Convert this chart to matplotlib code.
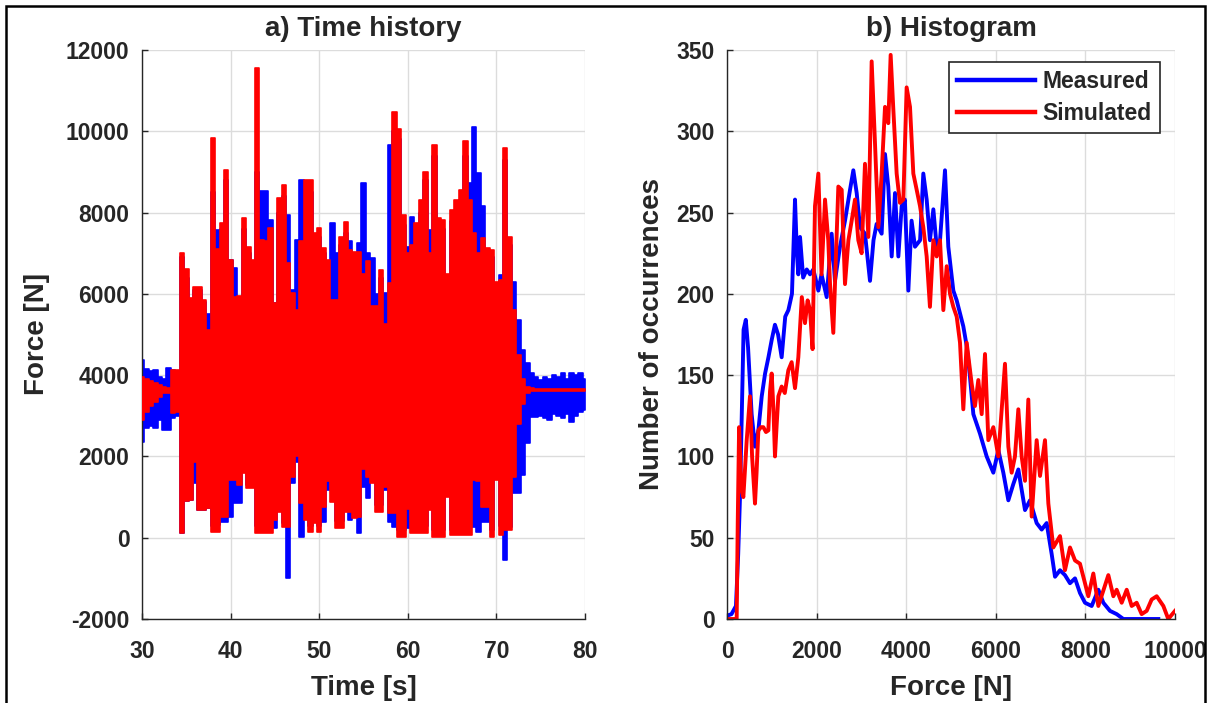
import matplotlib
matplotlib.use("Agg")
import matplotlib.pyplot as plt
import numpy as np
from matplotlib.patches import Rectangle

plt.rcParams['font.family'] = ['Liberation Sans', 'DejaVu Sans']
plt.rcParams['font.weight'] = 'bold'
plt.rcParams['axes.labelweight'] = 'bold'
plt.rcParams['axes.titleweight'] = 'bold'
plt.rcParams['axes.unicode_minus'] = False

# Force time history, envelope of the signal every 0.5 s from 30 s to 80 s
t_start, t_step = 30.0, 0.5

meas_hi = [4370, 4150, 4100, 4120, 3950, 3900, 4170, 4130, 4100, 6900,
           6400, 5800, 6100, 6100, 5800, 5500, 8500, 7570, 7600, 8800,
           6830, 6630, 5700, 7600, 7000, 6700, 9000, 8520, 8520, 7820,
           5770, 8000, 8400, 7940, 6100, 7330, 8800, 8500, 8500, 7300,
           7400, 7000, 6500, 7740, 7000, 7200, 7500, 7290, 6900, 7240,
           8720, 7000, 6870, 6000, 6400, 6010, 9660, 10000, 9800, 7700,
           7160, 7900, 7500, 8000, 8800, 7570, 9400, 7600, 7600, 6400,
           7800, 8000, 8300, 9400, 8720, 10110, 8970, 8150, 7000, 6900,
           6200, 6460, 9300, 7200, 6300, 5360, 4620, 4290, 4050, 3950,
           3880, 3960, 3900, 4000, 3950, 4050, 3900, 4050, 4000, 4050,
           3900]
meas_lo = [2360, 2700, 2750, 2690, 2900, 2650, 2650, 2940, 3000, 108,
           900, 930, 1340, 682, 680, 720, 300, 313, 395, 395,
           520, 846, 846, 1700, 1300, 1300, 300, 300, 300, 230,
           230, 700, 350, -1000, 1340, 1870, 26, 540, 300, 450,
           300, 395, 1174, 1340, 400, 400, 700, 436, 600, 108,
           1260, 969, 1500, 800, 800, 1174, 395, 272, 200, 200,
           231, 231, 300, 300, 300, 800, 200, 200, 200, 1100,
           200, 200, 200, 200, 300, 272, 149, 395, 395, 200,
           1500, 300, -550, 272, 1092, 1100, 1540, 2320, 2980, 2980,
           3000, 2950, 2900, 3050, 3000, 2950, 3050, 2850, 3000, 3100,
           3140]
sim_hi = [3960, 3900, 3850, 3800, 3750, 3700, 3680, 4130, 4130, 7000,
          6600, 5890, 6180, 6180, 5850, 5100, 9830, 7100, 7740, 9050,
          6830, 5930, 5950, 7860, 7160, 6830, 11550, 7330, 7300, 7610,
          5770, 8350, 8680, 6750, 6010, 5600, 7300, 8800, 8800, 7490,
          7610, 7120, 6830, 5850, 5850, 7410, 7780, 7080, 7040, 7040,
          6500, 6800, 5690, 5690, 6590, 5270, 6260, 10480, 10050, 7940,
          7000, 7200, 7740, 8310, 9010, 7000, 9660, 7860, 7820, 6500,
          8060, 8310, 8560, 9750, 8310, 7500, 7000, 7370, 7120, 7080,
          6300, 6340, 9580, 7410, 5600, 4500, 3900, 3700, 3680, 3665,
          3660, 3660, 3660, 3660, 3660, 3660, 3660, 3660, 3660, 3660,
          3660]
sim_lo = [2900, 3100, 3250, 3350, 3450, 3550, 3560, 3060, 3100, 108,
          900, 928, 1860, 682, 680, 720, 150, 150, 520, 520,
          1420, 1420, 1300, 1580, 1215, 1215, 108, 108, 108, 108,
          436, 641, 272, 270, 1500, 2000, 846, 436, 150, 354,
          150, 764, 1400, 880, 231, 231, 641, 640, 477, 500,
          1700, 1500, 1340, 641, 641, 1256, 600, 600, 26, 26,
          700, 108, 108, 108, 108, 682, 26, 26, 26, 1010,
          67, 67, 67, 67, 67, 1420, 1400, 764, 764, 26,
          1420, 67, 190, 190, 1500, 2800, 3300, 3550, 3600, 3615,
          3620, 3620, 3620, 3620, 3620, 3620, 3620, 3620, 3620, 3620,
          3620]

# Histogram of force values
meas_force = [0, 100, 200, 250, 290, 330, 370, 420, 470, 550,
              625, 700, 775, 850, 925, 1000, 1070, 1140, 1220, 1300,
              1370, 1450, 1518, 1560, 1592, 1630, 1700, 1780, 1853, 1927,
              2039, 2110, 2225, 2336, 2410, 2522, 2634, 2746, 2820, 2895,
              2969, 3080, 3192, 3270, 3340, 3452, 3527, 3600, 3676, 3750,
              3825, 3899, 3970, 4048, 4120, 4196, 4310, 4382, 4457, 4530,
              4606, 4680, 4755, 4866, 4940, 5052, 5127, 5275, 5350, 5420,
              5499, 5647, 5796, 5945, 6056, 6168, 6280, 6391, 6503, 6652,
              6763, 6912, 7024, 7135, 7247, 7322, 7433, 7544, 7656, 7768,
              7879, 7991, 8140, 8289, 8400, 8549, 8698, 8847, 9200, 9628]
meas_count = [2, 3, 8, 40, 75, 126, 178, 184, 167, 126,
              106, 116, 137, 151, 161, 172, 181, 175, 161, 186,
              190, 200, 258, 225, 212, 235, 210, 215, 212, 215,
              202, 212, 198, 237, 208, 229, 245, 264, 276, 262,
              241, 237, 208, 233, 243, 237, 286, 266, 223, 262,
              223, 254, 258, 202, 245, 229, 233, 274, 258, 233,
              252, 229, 233, 276, 229, 202, 196, 180, 168, 150,
              126, 114, 100, 90, 104, 90, 73, 83, 92, 67,
              73, 59, 55, 59, 40, 26, 30, 27, 22, 25,
              16, 10, 8, 18, 10, 5, 3, 0, 0, 0]

sim_force = [0, 100, 216, 240, 270, 320, 365, 440, 513, 560,
             625, 660, 700, 760, 811, 870, 923, 960, 997, 1035,
             1071, 1110, 1146, 1220, 1290, 1369, 1443, 1518, 1592, 1670,
             1741, 1800, 1853, 1910, 1964, 2039, 2110, 2188, 2260, 2300,
             2373, 2485, 2560, 2634, 2710, 2783, 2857, 2931, 3005, 3080,
             3155, 3229, 3300, 3378, 3452, 3527, 3600, 3653, 3710, 3787,
             3860, 3936, 4010, 4085, 4159, 4234, 4308, 4382, 4457, 4530,
             4606, 4680, 4755, 4829, 4904, 4978, 5052, 5127, 5201, 5275,
             5350, 5460, 5535, 5610, 5685, 5759, 5833, 5945, 6056, 6205,
             6280, 6354, 6428, 6503, 6577, 6652, 6726, 6801, 6912, 6987,
             7098, 7173, 7284, 7433, 7544, 7656, 7768, 7879, 7991, 8065,
             8177, 8289, 8512, 8624, 8698, 8810, 8922, 9033, 9144, 9256,
             9368, 9479, 9591, 9740, 9850, 10000]
sim_count = [0, 0, 0, 60, 118, 80, 75, 110, 137, 100,
             71, 90, 116, 118, 118, 115, 116, 140, 151, 130,
             100, 120, 137, 143, 139, 153, 158, 142, 161, 198,
             182, 196, 190, 166, 254, 274, 212, 258, 233, 206,
             176, 266, 264, 206, 233, 245, 258, 233, 225, 280,
             235, 343, 295, 241, 274, 315, 305, 347, 315, 274,
             256, 258, 327, 315, 274, 264, 254, 241, 223, 192,
             233, 223, 233, 190, 217, 200, 192, 186, 170, 129,
             170, 145, 131, 147, 126, 163, 110, 118, 100, 157,
             106, 90, 100, 129, 100, 85, 135, 63, 110, 88,
             110, 71, 44, 51, 30, 44, 36, 34, 22, 14,
             28, 8, 27, 14, 18, 10, 18, 8, 10, 3,
             5, 12, 14, 8, 0, 5]

BLUE = (0, 0, 1)
RED = (1, 0, 0)
GRID = '#dcdcdc'
TICK_FS = 16.5
LABEL_FS = 20

W, H = 1211, 703
fig = plt.figure(figsize=(W / 100, H / 100), dpi=100)


def style_axes(ax):
    ax.spines['top'].set_visible(False)
    ax.spines['right'].set_visible(False)
    for s in ('left', 'bottom'):
        ax.spines[s].set_color('#262626')
        ax.spines[s].set_linewidth(1.0)
    ax.grid(True, color=GRID, linewidth=1.0)
    ax.set_axisbelow(True)
    ax.tick_params(direction='in', length=4, width=1.0, color='#262626',
                   labelsize=TICK_FS, labelcolor='#262626')
    ax.tick_params(axis='y', pad=9)
    ax.tick_params(axis='x', pad=15)


# a) time history
ax1 = fig.add_axes([142 / W, 1 - 619 / H, 443 / W, 569 / H])
t = t_start + t_step * np.arange(len(meas_hi))
ax1.fill_between(t, meas_lo, meas_hi, step='mid', color=BLUE,
                 edgecolor=BLUE, linewidth=1.2, zorder=2)
ax1.fill_between(t, sim_lo, sim_hi, step='mid', color=RED,
                 edgecolor=RED, linewidth=1.2, zorder=3)
ax1.set_xlim(30, 80)
ax1.set_ylim(-2000, 12000)
ax1.set_xticks(np.arange(30, 81, 10))
ax1.set_yticks(np.arange(-2000, 12001, 2000))
style_axes(ax1)
ax1.set_title('a) Time history', fontsize=LABEL_FS, pad=10, color='#262626')
ax1.set_xlabel('Time [s]', fontsize=LABEL_FS, labelpad=9, color='#262626')
ax1.set_ylabel('Force [N]', fontsize=LABEL_FS, labelpad=11, color='#262626')

# b) histogram
ax2 = fig.add_axes([727 / W, 1 - 619 / H, 448 / W, 569 / H])
ax2.plot(meas_force, meas_count, color=BLUE, linewidth=2.8, label='Measured')
ax2.plot(sim_force, sim_count, color=RED, linewidth=2.8, label='Simulated')
ax2.set_xlim(0, 10000)
ax2.set_ylim(0, 350)
ax2.set_xticks(np.arange(0, 10001, 2000))
ax2.set_yticks(np.arange(0, 351, 50))
style_axes(ax2)
ax2.set_title('b) Histogram', fontsize=LABEL_FS, pad=10, color='#262626')
ax2.set_xlabel('Force [N]', fontsize=LABEL_FS, labelpad=9, color='#262626')
ax2.set_ylabel('Number of occurrences', fontsize=LABEL_FS, labelpad=8,
               color='#262626')
leg = ax2.legend(loc='upper right', bbox_to_anchor=((1160 - 727) / 448, (619 - 62) / 569),
                 borderaxespad=0, fontsize=TICK_FS, fancybox=False,
                 framealpha=1, edgecolor='#262626', handlelength=3.4,
                 handletextpad=0.35, borderpad=0.35, labelspacing=0.4)
leg.get_frame().set_linewidth(1.2)
for line in leg.get_lines():
    line.set_linewidth(3.2)
for txt in leg.get_texts():
    txt.set_color('#262626')

# outer frame around the figure
fig.patches.append(Rectangle((6 / W, -0.05), (1205 - 6) / W, 1 - 6 / H + 0.05,
                             transform=fig.transFigure, fill=False,
                             edgecolor='black', linewidth=1.8, clip_on=False))

fig.savefig('out.png', dpi=100)
